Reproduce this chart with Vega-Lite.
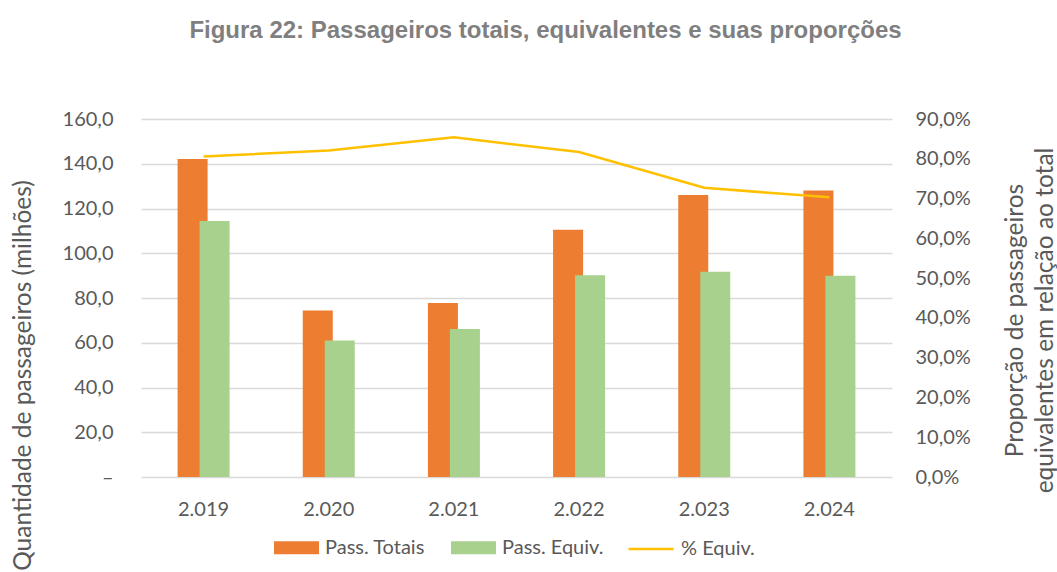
{
  "$schema": "https://vega.github.io/schema/vega-lite/v6.json",
  "width": 751,
  "height": 358,
  "autosize": {"type": "none"},
  "padding": {"left": 141, "top": 119, "right": 165, "bottom": 95},
  "background": "white",
  "title": {
    "text": "Figura 22: Passageiros totais, equivalentes e suas proporções",
    "font": "Liberation Sans",
    "fontSize": 24,
    "fontWeight": "bold",
    "color": "#7F7F7F",
    "anchor": "middle",
    "frame": "group",
    "baseline": "alphabetic",
    "offset": 47,
    "dx": 29
  },
  "data": {
    "values": [
      {"ano": "2.019", "totais": 142.1, "equiv": 114.4, "pct": 0.806},
      {"ano": "2.020", "totais": 74.4, "equiv": 61.0, "pct": 0.821},
      {"ano": "2.021", "totais": 77.8, "equiv": 66.2, "pct": 0.854},
      {"ano": "2.022", "totais": 110.5, "equiv": 90.2, "pct": 0.817},
      {"ano": "2.023", "totais": 126.0, "equiv": 91.7, "pct": 0.727},
      {"ano": "2.024", "totais": 128.0, "equiv": 89.9, "pct": 0.703}
    ]
  },
  "encoding": {
    "x": {
      "field": "ano",
      "type": "nominal",
      "sort": null,
      "scale": {"paddingInner": 0, "paddingOuter": 0},
      "axis": {
        "title": null,
        "labelAngle": 0,
        "domain": false,
        "ticks": false,
        "labelPadding": 22,
        "labelFont": "Lato",
        "labelFontSize": 20,
        "labelColor": "#595959"
      }
    }
  },
  "layer": [
    {
      "encoding": {
        "y": {
          "type": "quantitative",
          "scale": {"domain": [0, 160]},
          "axis": {
            "title": "Quantidade de passageiros (milhões)",
            "values": [0, 20, 40, 60, 80, 100, 120, 140, 160],
            "labelExpr": "datum.value == 0 ? '–' : replace(format(datum.value, '.1f'), '.', ',')",
            "grid": true,
            "gridColor": "#D9D9D9",
            "gridWidth": 1.5,
            "domain": false,
            "ticks": false,
            "labelPadding": 28,
            "labelFont": "Lato",
            "labelFontSize": 20,
            "labelColor": "#595959",
            "titleFont": "Lato",
            "titleFontSize": 24.5,
            "titleFontWeight": "normal",
            "titleColor": "#595959",
            "titleAngle": 270,
            "titleAlign": "center",
            "titleBaseline": "middle",
            "titleX": -118,
            "titleY": 256
          }
        }
      },
      "layer": [
        {
          "mark": {"type": "bar", "width": 30, "xOffset": -11},
          "encoding": {
            "y": {"field": "totais"},
            "fill": {
              "datum": "Pass. Totais",
              "type": "nominal",
              "scale": {"domain": ["Pass. Totais", "Pass. Equiv."], "range": ["#ED7D31", "#A9D18E"]},
              "legend": {
                "title": null,
                "orient": "none",
                "legendX": 133,
                "legendY": 406,
                "direction": "horizontal",
                "symbolType": "M-1,-0.289H1V0.289H-1Z",
                "symbolSize": 2025,
                "symbolStrokeWidth": 0,
                "symbolOpacity": 1,
                "labelFont": "Lato",
                "labelFontSize": 20,
                "labelColor": "#595959",
                "labelOffset": 6,
                "columnPadding": 26
              }
            }
          }
        },
        {
          "mark": {"type": "bar", "width": 30, "xOffset": 11},
          "encoding": {
            "y": {"field": "equiv"},
            "fill": {"datum": "Pass. Equiv.", "type": "nominal"}
          }
        }
      ]
    },
    {
      "mark": {"type": "line", "strokeWidth": 2.5},
      "encoding": {
        "y": {
          "field": "pct",
          "type": "quantitative",
          "scale": {"domain": [0, 0.9]},
          "axis": {
            "orient": "right",
            "title": ["Proporção de passageiros", "equivalentes em relação ao total"],
            "values": [0, 0.1, 0.2, 0.3, 0.4, 0.5, 0.6, 0.7, 0.8, 0.9],
            "labelExpr": "replace(format(datum.value, '.1%'), '.', ',')",
            "grid": false,
            "domain": false,
            "ticks": false,
            "labelPadding": 23,
            "labelFont": "Lato",
            "labelFontSize": 20,
            "labelColor": "#595959",
            "titleFont": "Lato",
            "titleFontSize": 24.5,
            "titleFontWeight": "normal",
            "titleColor": "#595959",
            "titleAngle": 270,
            "titleAlign": "center",
            "titleBaseline": "alphabetic",
            "titleLineHeight": 30,
            "titleX": 130,
            "titleY": 201
          }
        },
        "stroke": {
          "datum": "% Equiv.",
          "type": "nominal",
          "scale": {"range": ["#FFC000"]},
          "legend": {
            "title": null,
            "orient": "none",
            "legendX": 486,
            "legendY": 406,
            "symbolType": "stroke",
            "symbolSize": 2025,
            "symbolStrokeWidth": 2.5,
            "labelFont": "Lato",
            "labelFontSize": 20,
            "labelColor": "#595959",
            "labelOffset": 6
          }
        }
      }
    }
  ],
  "resolve": {"scale": {"y": "independent"}},
  "config": {
    "view": {"stroke": null}
  }
}
